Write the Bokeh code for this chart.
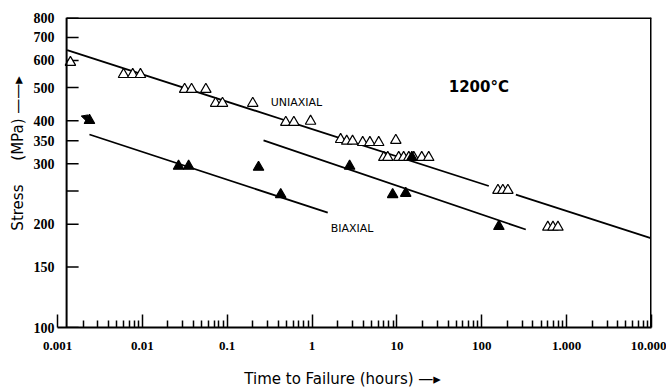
import numpy as np
from bokeh.plotting import figure
from bokeh.models import (FixedTicker, CustomJSTickFormatter, Label, Range1d,
                          Arrow, NormalHead, Span)
from bokeh.embed import file_html
from bokeh.resources import INLINE

# ---- data (time to failure in hours, stress in MPa) ----
uni_t = [0.00142, 0.0060, 0.0077, 0.0095, 0.0315, 0.038, 0.056, 0.073, 0.088,
         0.20, 0.49, 0.61, 0.96, 2.17, 2.56, 3.0, 3.95, 4.8, 6.1, 9.7,
         7.0, 7.8, 10.5, 12.0, 13.8, 15.8, 19.6, 23.7, 155, 177, 203, 600, 690, 790]
uni_s = [592, 546, 546, 546, 494, 494, 494, 450, 450,
         450, 396, 396, 399, 353, 349, 349, 346, 346, 346, 351,
         313, 313, 313, 313, 313, 313, 313, 313, 251, 251, 251, 196, 196, 196]

bi_t = [0.00238, 0.0267, 0.0351, 0.234, 0.427, 2.77, 8.9, 12.7, 15.0, 159]
bi_s = [401, 295, 295, 293, 244, 295, 244, 246, 313, 197]

uni_line_t = [0.0013, 9800]
uni_line_s = [643, 182]
bi_line1_t = [0.00238, 1.53]
bi_line1_s = [365, 216]
bi_line2_t = [0.268, 330]
bi_line2_s = [351, 193]

x_ticks = [0.001, 0.01, 0.1, 1, 10, 100, 1000, 10000]
y_ticks = [100, 150, 200, 250, 300, 350, 400, 500, 600, 700, 800]

# drawing style of the original figure
uni_gaps = [(0.52, 0.63), (121, 252)]   # breaks in the uniaxial line
stress_axis_at = 0.00128                 # the stress axis is drawn a little right of 0.001

NB = "\u00a0"
X0, X1, Y0, Y1 = 0.001, 10000, 100, 800

p = figure(width=666, height=391, x_axis_type="log", y_axis_type="log",
           x_range=Range1d(X0, X1), y_range=Range1d(Y0, Y1),
           output_backend="svg", toolbar_location=None,
           min_border_left=57, min_border_right=15, min_border_top=17,
           min_border_bottom=64)
p.background_fill_color = "white"
p.border_fill_color = "white"
p.outline_line_color = None
p.xgrid.visible = False
p.ygrid.visible = False

tick_font = "Liberation Sans Narrow"

minor = [m * 10.0 ** k for k in range(-3, 4) for m in range(2, 10)]
p.xaxis.ticker = FixedTicker(ticks=x_ticks, minor_ticks=minor)
p.xaxis.formatter = CustomJSTickFormatter(
    code="return tick >= 1000 ? (tick/1000) + '.000' : String(tick);")
p.yaxis.ticker = FixedTicker(ticks=y_ticks, minor_ticks=[])
p.yaxis.formatter = CustomJSTickFormatter(
    code="return tick == 250 ? '' : String(tick);")

for ax in (p.xaxis[0], p.yaxis[0]):
    ax.axis_line_width = 2
    ax.axis_line_color = "black"
    ax.major_tick_line_color = "black"
    ax.major_tick_line_width = 1.5
    ax.major_tick_out = 0
    ax.minor_tick_out = 0
    ax.major_label_text_font = tick_font
    ax.major_label_text_font_style = "bold"
    ax.major_label_text_color = "black"
    ax.axis_label_text_font = "DejaVu Sans"
    ax.axis_label_text_font_style = "normal"
    ax.axis_label_text_font_size = "15px"
    ax.axis_label_text_color = "black"

p.xaxis.major_label_text_font_size = "13px"
p.xaxis.major_tick_in = 13
p.xaxis.minor_tick_in = 7
p.xaxis.minor_tick_line_color = "black"
p.xaxis.minor_tick_line_width = 1.5
p.xaxis.major_label_standoff = 14
p.xaxis.axis_label = "Time to Failure (hours) \u2014\u25b8" + NB * 5
p.xaxis.axis_label_standoff = 17

p.yaxis.major_label_text_font_size = "14px"
p.yaxis.axis_line_color = None
p.yaxis.major_tick_in = 0
p.yaxis.major_tick_line_color = None
p.yaxis.minor_tick_line_color = None
p.yaxis.major_label_standoff = 3
p.yaxis.axis_label = (NB * 8 + "Stress" + NB * 5 + "(MPa)" + NB
                      + "\u2014\u2014\u25b8")
p.yaxis.axis_label_standoff = 4

# frame as drawn in the original: stress axis, its ticks, top and right border
p.add_layout(Span(location=stress_axis_at, dimension="height",
                  line_color="black", line_width=2))
p.ray(x=[stress_axis_at] * len(y_ticks), y=y_ticks, length=12,
      length_units="screen", angle=0, line_color="black", line_width=1.5)
p.segment(x0=[stress_axis_at, X1], y0=[Y1, Y0], x1=[X1, X1], y1=[Y1, Y1],
          line_color="black", line_width=3)

# ---- lines ----
def seg_points(t, s, gaps):
    lt = np.log10(t)
    ls = np.log10(s)
    def sv(x):
        return 10 ** np.interp(np.log10(x), lt, ls)
    bounds = [t[0]]
    for a, b in gaps:
        bounds += [a, b]
    bounds.append(t[1])
    xs, ys = [], []
    for i in range(0, len(bounds), 2):
        xs.append([bounds[i], bounds[i + 1]])
        ys.append([sv(bounds[i]), sv(bounds[i + 1])])
    return xs, ys

ux, uy = seg_points(uni_line_t, uni_line_s, uni_gaps)
p.multi_line(ux, uy, line_color="black", line_width=1.8)
p.line(bi_line1_t, bi_line1_s, line_color="black", line_width=1.8)
p.line(bi_line2_t, bi_line2_s, line_color="black", line_width=1.8)

# ---- points ----
p.scatter(uni_t, uni_s, marker="triangle", size=10.5, fill_color="white",
          line_color="black", line_width=1.2)
p.scatter(bi_t, bi_s, marker="triangle", size=10.5, fill_color="black",
          line_color="black", line_width=1.2)

# small arrow left of first biaxial point
p.add_layout(Arrow(end=NormalHead(size=6, fill_color="black", line_color="black"),
                   x_start=bi_t[0] * 0.91, y_start=bi_s[0] * 1.02,
                   x_end=bi_t[0] * 0.80, y_end=bi_s[0] * 1.03,
                   line_width=1.5, line_color="black"))

# ---- annotations ----
p.add_layout(Label(x=0.325, y=453, text="UNIAXIAL", text_font="DejaVu Sans",
                   text_font_size="11px", text_baseline="middle", text_align="left",
                   text_color="black"))
p.add_layout(Label(x=1.66, y=194.5, text="BIAXIAL", text_font="DejaVu Sans",
                   text_font_size="11px", text_baseline="middle", text_align="left",
                   text_color="black"))
p.add_layout(Label(x=40.8, y=501, text="1200°C", text_font="DejaVu Sans",
                   text_font_style="bold", text_font_size="15px",
                   text_baseline="middle", text_align="left", text_color="black"))

open("out.html", "w").write(file_html(p, INLINE))
